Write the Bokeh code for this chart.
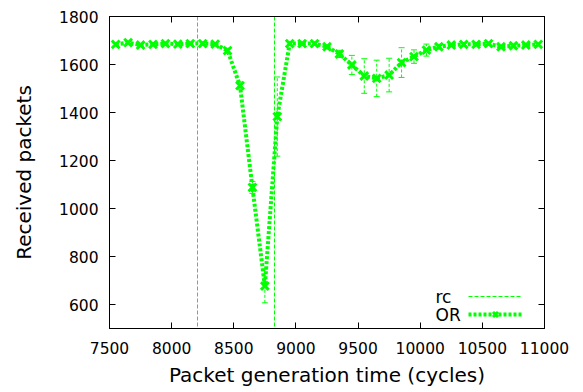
from bokeh.plotting import figure
from bokeh.models import (ColumnDataSource, Whisker, TeeHead, Legend, LegendItem,
                          LinearAxis, Label, FixedTicker, Range1d, CustomJSTickFormatter)
from bokeh.embed import file_html
from bokeh.resources import INLINE

# ---- data ----
gen_time = [7550, 7650, 7750, 7850, 7950, 8050, 8150, 8250, 8350, 8450,
            8550, 8650, 8750, 8850, 8950, 9050, 9150, 9250, 9350, 9450,
            9550, 9650, 9750, 9850, 9950, 10050, 10150, 10250, 10350, 10450,
            10550, 10650, 10750, 10850, 10950]
received = [1684, 1691, 1681, 1684, 1687, 1685, 1687, 1687, 1685, 1658,
            1512, 1088, 677, 1383, 1687, 1687, 1687, 1674, 1644, 1598,
            1552, 1542, 1556, 1608, 1633, 1660, 1674, 1681, 1684, 1684,
            1687, 1674, 1678, 1681, 1684]
err = [4, 4, 4, 4, 4, 4, 4, 4, 4, 10,
       15, 25, 70, 165, 8, 6, 6, 8, 15, 40,
       72, 76, 70, 62, 28, 25, 10, 6, 5, 5,
       5, 6, 5, 5, 5]
rc_times = [8210, 8830]
x_ticks = [7500, 8000, 8500, 9000, 9500, 10000, 10500, 11000]
y_ticks = [600, 800, 1000, 1200, 1400, 1600, 1800]
series_labels = ["rc", "OR"]

GREEN = "#00ff00"
FONT = "DejaVu Sans"

src = ColumnDataSource(dict(
    x=gen_time, y=received,
    upper=[v + e for v, e in zip(received, err)],
    lower=[v - e for v, e in zip(received, err)],
))

p = figure(width=583, height=392, output_backend="svg", toolbar_location=None,
           x_range=Range1d(7500, 11000), y_range=Range1d(500, 1800),
           min_border_left=109, min_border_right=39, min_border_top=16, min_border_bottom=64)
p.xgrid.visible = False
p.ygrid.visible = False
p.outline_line_color = "black"
p.outline_line_width = 1

def style_axis(ax, show_labels=True):
    ax.axis_line_color = "black"
    ax.major_tick_in = 6
    ax.major_tick_out = 0
    ax.minor_tick_in = 0
    ax.minor_tick_out = 0
    ax.major_tick_line_color = "black"
    if show_labels:
        ax.major_label_text_font = FONT
        ax.major_label_text_font_size = "15.5px"
        ax.major_label_text_color = "black"
        ax.axis_label_text_font = FONT
        ax.axis_label_text_font_size = "20px"
        ax.axis_label_text_font_style = "normal"
        ax.axis_label_text_color = "black"
    else:
        ax.formatter = CustomJSTickFormatter(code="return ''")
        ax.major_label_standoff = 0

p.xaxis.ticker = FixedTicker(ticks=x_ticks)
p.yaxis.ticker = FixedTicker(ticks=y_ticks)
p.xaxis.axis_label = "Packet generation time (cycles)"
p.yaxis.axis_label = "Received packets"
style_axis(p.xaxis[0])
style_axis(p.yaxis[0])
p.xaxis.major_label_standoff = 13
p.yaxis.major_label_standoff = 11
p.xaxis.axis_label_standoff = 6
p.yaxis.axis_label_standoff = 20

top_ax = LinearAxis(ticker=FixedTicker(ticks=x_ticks))
right_ax = LinearAxis(ticker=FixedTicker(ticks=y_ticks))
style_axis(top_ax, False)
style_axis(right_ax, False)
p.add_layout(top_ax, "above")
p.add_layout(right_ax, "right")

# rc vertical markers
rc_r = p.vspan(x=rc_times, line_color=GREEN, line_width=1, line_dash="4 2")

# error bars
p.add_layout(Whisker(source=src, base="x", upper="upper", lower="lower",
                     line_color=GREEN, line_width=1, line_dash="3 2",
                     upper_head=TeeHead(size=6, line_color=GREEN, line_width=1),
                     lower_head=TeeHead(size=6, line_color=GREEN, line_width=1)))

ln = p.line("x", "y", source=src, line_color=GREEN, line_width=4, line_dash="3 2")
sc = p.scatter("x", "y", source=src, marker="x", size=11, line_color=GREEN, line_width=3)

legend = Legend(items=[LegendItem(label=" ", renderers=[rc_r]),
                       LegendItem(label=" ", renderers=[ln, sc])],
                location=(359, 5), glyph_width=54, glyph_height=18, spacing=0,
                label_standoff=0, padding=0, margin=0, border_line_color=None,
                background_fill_alpha=0, label_text_font_size="1px", label_width=1,
                label_height=18)
p.add_layout(legend)

for lab, ypos in zip(series_labels, [32, 14]):
    p.add_layout(Label(x=326, y=ypos, x_units="screen", y_units="screen", text=lab,
                       text_font=FONT, text_font_size="17px", text_align="left",
                       text_baseline="middle", text_color="black"))

open("out.html", "w").write(file_html(p, INLINE))
